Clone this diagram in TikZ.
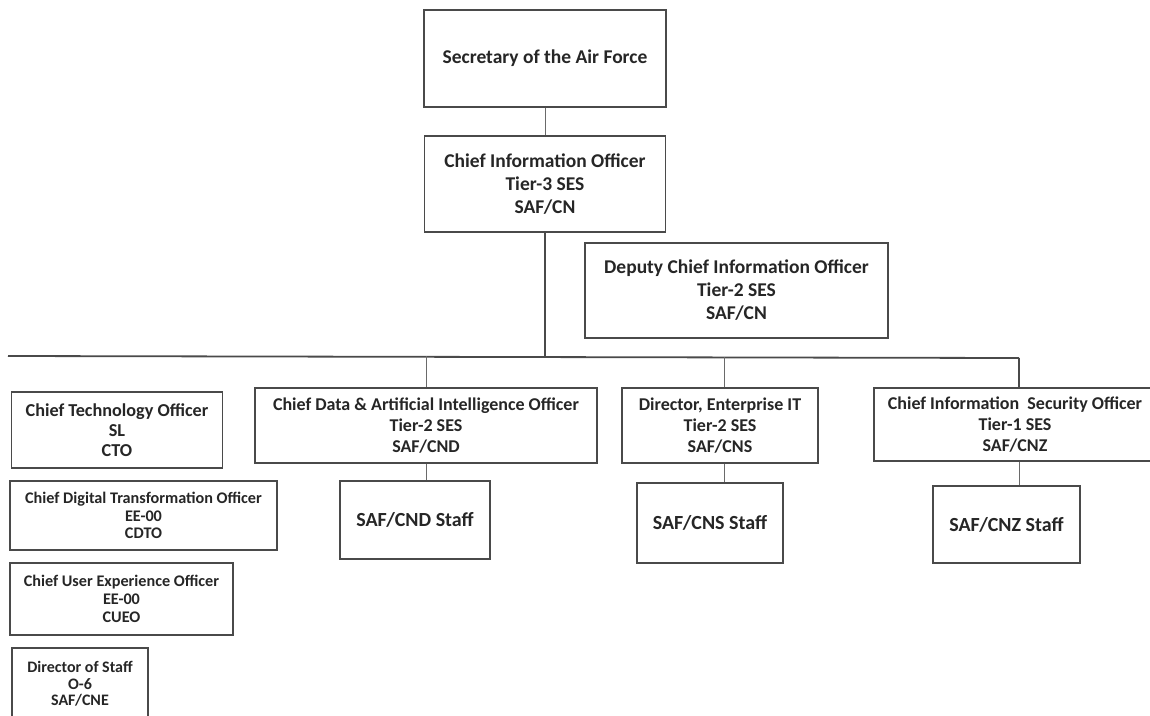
\documentclass[tikz,border=0pt]{standalone}
\usepackage{fontspec}
\setmainfont{Carlito}
\definecolor{boxline}{HTML}{4A4A4A}
\definecolor{conn}{HTML}{6A6A6A}
\definecolor{txt}{HTML}{262626}
\begin{document}
\begin{tikzpicture}[x=1pt,y=-1pt,
  orgbox/.style={draw=boxline, line width=1.4pt, fill=white, rectangle, inner sep=0pt,
    align=center, text=txt, font=\bfseries},
  big/.style={font=\fontsize{19.5}{23}\selectfont\bfseries},
  staff/.style={font=\fontsize{20}{23}\selectfont\bfseries},
  mid/.style={font=\fontsize{18}{21}\selectfont\bfseries},
  ctofont/.style={font=\fontsize{18.2}{20}\selectfont\bfseries},
  small/.style={font=\fontsize{16.2}{17.8}\selectfont\bfseries},
  tiny/.style={font=\fontsize{16}{16.5}\selectfont\bfseries},
  link/.style={draw=conn, line width=1pt},
  bus/.style={draw=boxline, line width=1.8pt}]
\clip (0,0) rectangle (1150,715);
\fill[white] (0,0) rectangle (1150,715);

% top chain
\node[orgbox, big, minimum width=242pt, minimum height=97pt] (sec) at (545,58.5) {Secretary of the Air Force};
\node[orgbox, big, minimum width=241pt, minimum height=96pt] (cio) at (545,184) {Chief Information Officer\\Tier-3 SES\\SAF/CN};
\node[orgbox, big, minimum width=303pt, minimum height=95pt] (dep) at (736.5,290.5) {Deputy Chief Information Officer\\Tier-2 SES\\SAF/CN};

% left column
\node[orgbox, ctofont, minimum width=211pt, minimum height=76pt] (cto) at (117,430) {Chief Technology Officer\\SL\\CTO};
\node[orgbox, small, minimum width=267pt, minimum height=69pt] (cdto) at (143.5,515.5) {Chief Digital Transformation Officer\\EE-00\\CDTO};
\node[orgbox, small, minimum width=223pt, minimum height=72pt] (cueo) at (121.5,599) {Chief User Experience Officer\\EE-00\\CUEO};
\node[orgbox, tiny, minimum width=136pt, minimum height=72pt] (dos) at (80,684) {Director of Staff\\O-6\\SAF/CNE};

% second level
\node[orgbox, mid, minimum width=342pt, minimum height=75pt] (cdaio) at (426,425.5) {Chief Data \& Artificial Intelligence Officer\\Tier-2 SES\\SAF/CND};
\node[orgbox, mid, minimum width=196pt, minimum height=75pt] (dir) at (720,425.5) {Director,\ Enterprise IT\\Tier-2 SES\\SAF/CNS};
\node[orgbox, mid, minimum width=282pt, minimum height=73pt] (ciso) at (1015,424.5) {Chief Information\ \ Security Officer\\Tier-1 SES\\SAF/CNZ};

% staff
\node[orgbox, staff, minimum width=150pt, minimum height=78pt] (cnd) at (415,520) {SAF/CND Staff};
\node[orgbox, staff, minimum width=146pt, minimum height=80pt] (cns) at (710,523) {SAF/CNS Staff};
\node[orgbox, staff, minimum width=147pt, minimum height=77pt] (cnz) at (1006.5,524.5) {SAF/CNZ Staff};

% connectors
\coordinate (busL) at (8,356);
\coordinate (busR) at (1019,358);
\coordinate (dirdrop) at (724,357);
\draw[link] (sec.south) -- (cio.north);
\draw[bus] (cio.south) -- (cio.south |- busL);
\draw[bus] (busL) -- (busR);
\draw[link] (cdaio.north |- busL) -- (cdaio.north);
\draw[link] (dirdrop) -- (dirdrop |- dir.north);
\draw[bus] (busR) -- (busR |- ciso.north);
\draw[link] (cdaio.south) -- (cdaio.south |- cnd.north);
\draw[link] (dirdrop |- dir.south) -- (dirdrop |- cns.north);
\draw[link] (busR |- ciso.south) -- (busR |- cnz.north);
\end{tikzpicture}
\end{document}
